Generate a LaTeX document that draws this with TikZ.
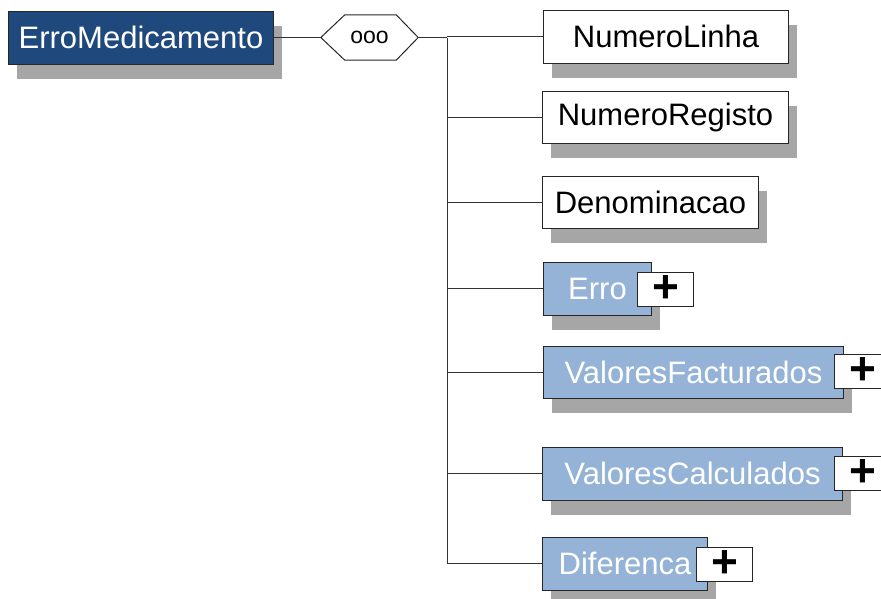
\documentclass[tikz,border=0pt]{standalone}
\usepackage{fontspec}
\setmainfont{Liberation Sans}
\usepackage{xcolor}
\usepackage{tikz}
\usetikzlibrary{positioning,shadows}

\definecolor{rootblue}{RGB}{31,73,125}
\definecolor{elemblue}{RGB}{149,179,215}
\definecolor{shadowgray}{RGB}{166,166,166}

\begin{document}
\begin{tikzpicture}[
  x=1pt, y=-1pt,
  box/.style={draw=black!85, line width=1pt, minimum height=53pt, inner sep=0pt, anchor=west,
    font=\fontsize{31}{31}\selectfont,
    general shadow={fill=shadowgray, shadow xshift=8pt, shadow yshift=-15pt}},
  rootbox/.style={box, fill=rootblue, text=white},
  leaf/.style={box, fill=white},
  elem/.style={box, fill=elemblue, text=white},
  plusbox/.style={draw=black!85, line width=1pt, fill=white, minimum width=56pt, minimum height=34pt,
    inner sep=0pt, anchor=west, font=\fontsize{46}{46}\selectfont\bfseries},
  link/.style={draw=black!80, line width=1pt},
]
  \useasboundingbox (0,0) rectangle (881,598);

  \node[rootbox, minimum width=265pt] (medicamento) at (8,37.5) {ErroMedicamento};

  \node[minimum width=97pt, minimum height=45pt, inner sep=0pt, font=\fontsize{23}{23}\selectfont] (seq) at (369.5,37.5) {};
  \draw[line width=1pt, draw=black!85, fill=white] (seq.west) -- ([xshift=24pt]seq.north west) -- ([xshift=-22pt]seq.north east)
    -- (seq.east) -- ([xshift=-22pt]seq.south east) -- ([xshift=24pt]seq.south west) -- cycle;
  \node[font=\fontsize{23}{23}\selectfont] at (seq.center) {ooo};

  \node[leaf, minimum width=245pt] (linha) at (543,36.5) {NumeroLinha};
  \node[leaf, minimum width=246pt, minimum height=52pt] (registo) at (542,117) {NumeroRegisto};
  \node[leaf, minimum width=216pt, minimum height=52pt] (denominacao) at (542,202) {Denominacao};
  \node[elem, minimum width=108pt] (erro) at (543,288.5) {Erro};
  \node[elem, minimum width=300pt, minimum height=52pt] (facturados) at (543,372) {ValoresFacturados};
  \node[elem, minimum width=300pt] (calculados) at (542,473.5) {ValoresCalculados};
  \node[elem, minimum width=165pt] (diferenca) at (542,563.5) {Diferenca};

  \node[plusbox] (erroplus) at (637,289) {+};
  \node[plusbox] (facturadosplus) at (834,371.5) {+};
  \node[plusbox] (calculadosplus) at (834,473) {+};
  \node[plusbox] (diferencaplus) at (696,564) {+};

  \coordinate (spine) at (447,37.5);
  \draw[link] (medicamento) -- (seq);
  \draw[link] (seq) -- (spine);
  \draw[link] (spine) -- (spine |- diferenca.west);

  \draw[link] (spine |- linha.west) -- (linha.west);
  \draw[link] (spine |- registo.west) -- (registo.west);
  \draw[link] (spine |- denominacao.west) -- (denominacao.west);
  \draw[link] (spine |- erro.west) -- (erro.west);
  \draw[link] (spine |- facturados.west) -- (facturados.west);
  \draw[link] (spine |- calculados.west) -- (calculados.west);
  \draw[link] (spine |- diferenca.west) -- (diferenca.west);
\end{tikzpicture}
\end{document}
